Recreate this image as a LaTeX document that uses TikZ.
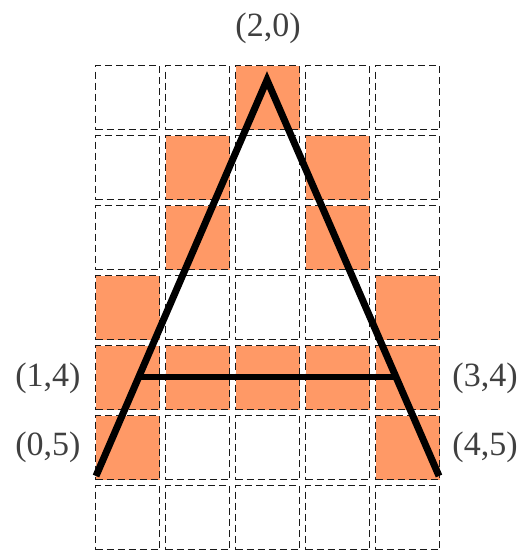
\documentclass[tikz,border=0pt]{standalone}
\usepackage{fontspec}
\setmainfont{Liberation Serif}
\usetikzlibrary{calc}
\definecolor{cellfill}{HTML}{FF9966}
\definecolor{labelgray}{HTML}{404040}

\begin{document}
\begin{tikzpicture}[x=1pt,y=-1pt,
    cell/.style={draw=black!90,dash pattern=on 7pt off 4pt,line width=1.8pt,minimum size=64pt,inner sep=0pt,outer sep=0pt},
    hit/.style={cell,fill=cellfill},
    lbl/.style={font=\fontsize{34}{40}\selectfont,text=labelgray},
    stroke/.style={line width=7pt,line join=miter},
  ]
    \useasboundingbox (0,0) rectangle (522,551);

    % pixel grid, hit cells on top
    \foreach \r in {0,...,6}
      \foreach \c in {0,...,4}
        \node[cell] (c\c\r) at (127.5+70*\c, 97.5+70*\r) {};
    \foreach \c/\r in {2/0,1/1,3/1,1/2,3/2,0/3,4/3,0/4,1/4,2/4,3/4,4/4,0/5,4/5}
      \node[hit] at (c\c\r) {};

    % the letter
    \coordinate (apex) at (267,80);
    \coordinate (bl) at (96,476);
    \coordinate (br) at (439,476);
    \draw[stroke] (bl) -- (apex) -- (br);
    \draw[line width=6pt] ($(bl)!0.25!(apex)$) -- ($(br)!0.25!(apex)$);

    \node[lbl] (p20) at (268,28) {(2,0)};
    \node[lbl] (p14) at (48,378) {(1,4)};
    \node[lbl] (p05) at (48,447) {(0,5)};
    \node[lbl] (p34) at (485,378) {(3,4)};
    \node[lbl] (p45) at (485,447) {(4,5)};
  \end{tikzpicture}
\end{document}
